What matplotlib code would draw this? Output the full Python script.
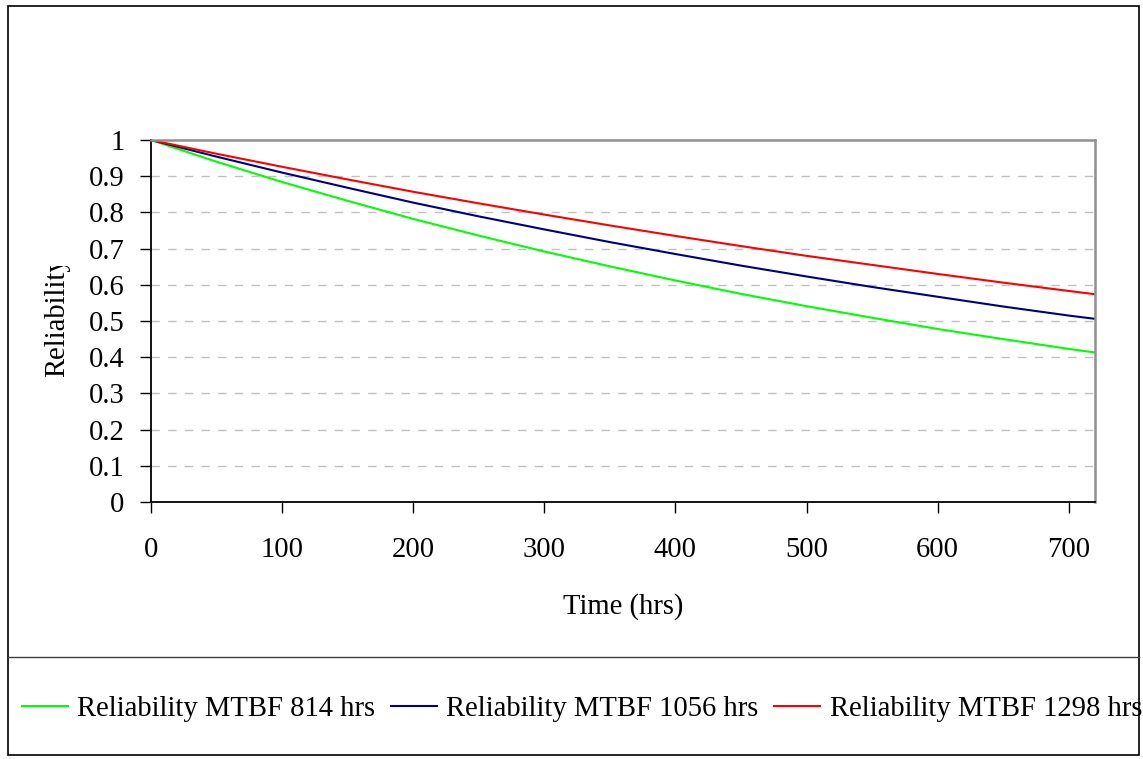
import matplotlib.pyplot as plt
from matplotlib.patches import Rectangle
from matplotlib.lines import Line2D
from matplotlib.transforms import Bbox

# values, every 50 hrs plus the end point
hours = [0, 50, 100, 150, 200, 250, 300, 350, 400, 450, 500, 550, 600, 650, 700, 720]
rel_814 = [1.0, 0.940, 0.884, 0.832, 0.782, 0.736, 0.692, 0.651, 0.612, 0.575,
           0.541, 0.509, 0.478, 0.450, 0.423, 0.413]
rel_1056 = [1.0, 0.954, 0.910, 0.868, 0.827, 0.789, 0.753, 0.718, 0.685, 0.653,
            0.623, 0.594, 0.567, 0.540, 0.515, 0.506]
rel_1298 = [1.0, 0.962, 0.926, 0.891, 0.857, 0.825, 0.794, 0.764, 0.735, 0.707,
            0.680, 0.655, 0.630, 0.606, 0.583, 0.574]
labels = ["Reliability MTBF 814 hrs", "Reliability MTBF 1056 hrs", "Reliability MTBF 1298 hrs"]
colors = ["#00ff00", "#000080", "#ff0000"]

plt.rcParams['font.family'] = ['Liberation Serif', 'DejaVu Serif']
FS = 20.6

W, H = 1143, 759
fig = plt.figure(figsize=(W / 100, H / 100), dpi=100)

# plot area in pixels: left 151, right 1095, top 140, bottom 502
ax = fig.add_axes([151 / W, 1 - 502 / H, (1095 - 151) / W, (502 - 140) / H])

for ys, c, lab in zip([rel_814, rel_1056, rel_1298], colors, labels):
    ax.plot(hours, ys, color=c, lw=1.5, label=lab)

ax.set_xlim(0, 720)
ax.set_ylim(0, 1)
ax.set_xticks(range(0, 701, 100))
ax.set_yticks([i / 10 for i in range(11)])
ax.set_yticklabels(['0', '0.1', '0.2', '0.3', '0.4', '0.5', '0.6', '0.7', '0.8', '0.9', '1'])
ax.tick_params(axis='both', labelsize=FS, direction='out', length=8, width=1, color='black')
ax.tick_params(axis='x', pad=17)
ax.tick_params(axis='y', pad=11)

for y in [i / 10 for i in range(1, 10)]:
    ax.axhline(y, color='#c0c0c0', lw=1, ls=(0, (6, 6)), zorder=0)

ax.spines['left'].set_color('black')
ax.spines['bottom'].set_color('black')
ax.spines['left'].set_linewidth(1.3)
ax.spines['bottom'].set_linewidth(1.3)
ax.spines['top'].set_color('#909090')
ax.spines['right'].set_color('#909090')
ax.spines['top'].set_linewidth(1.8)
ax.spines['right'].set_linewidth(1.8)

ax.set_xlabel('Time (hrs)', fontsize=FS, labelpad=22)

# y label gets cut off at the top like in the original
yl = fig.text(57 / W, 1 - 377 / H, 'Reliability', rotation=90, fontsize=FS,
              ha='center', va='bottom')
yl.set_clip_box(Bbox.from_extents(0, 0, 200, H - 266))
yl.set_clip_on(True)

# outer frame and legend separator
fig.patches.append(Rectangle((8 / W, 1 - 755 / H), (1139 - 8) / W, (755 - 6) / H,
                             transform=fig.transFigure, fill=False, ec='black', lw=1.2))
fig.lines.append(Line2D([8 / W, 1139 / W], [1 - 657 / H, 1 - 657 / H],
                        transform=fig.transFigure, color='#404040', lw=1))

fig.legend(loc='center', bbox_to_anchor=(582 / W, 1 - 709 / H), ncol=3, frameon=False,
           fontsize=FS, handlelength=1.6, handletextpad=0.33, columnspacing=0.55,
           borderaxespad=0)

fig.savefig('out.png', dpi=100)
